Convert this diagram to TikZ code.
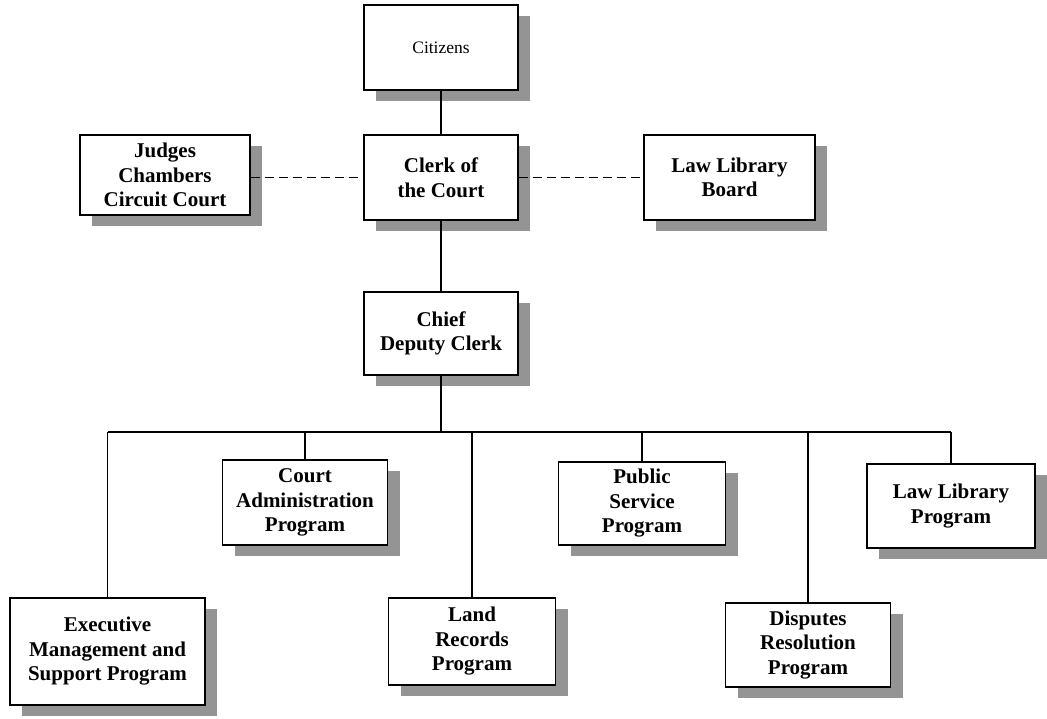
\documentclass[tikz,border=0pt]{standalone}
\usepackage{fontspec}
\setmainfont{Liberation Serif}
\usetikzlibrary{shadows}
\begin{document}
\begin{tikzpicture}[x=1pt,y=-1pt,
  unit/.style={draw=black, line width=1.3pt, fill=white, align=center, inner sep=0pt,
    font=\fontsize{21}{24.5}\selectfont\bfseries,
    drop shadow={shadow xshift=12pt, shadow yshift=-11pt, fill=black!42, opacity=1}},
  link/.style={line width=1.1pt},
  peer/.style={line width=1.1pt, dash pattern=on 9pt off 5pt}]
\useasboundingbox (0,0) rectangle (1047,719);

% top of the hierarchy
\node[unit, minimum width=154pt, minimum height=85pt, font=\fontsize{17.5}{20}\selectfont] (cit) at (441,47.5) {Citizens};
\node[unit, minimum width=154pt, minimum height=85pt] (clerk) at (441,177.5) {Clerk of\\the Court};
\node[unit, minimum width=170pt, minimum height=80pt] (judges) at (165,175) {Judges\\Chambers\\Circuit Court};
\node[unit, minimum width=171pt, minimum height=85pt] (llb) at (729.5,177.5) {Law Library\\Board};
\node[unit, minimum width=154pt, minimum height=83pt] (chief) at (441,333.5) {Chief\\Deputy Clerk};

% programs
\node[unit, minimum width=165pt, minimum height=85pt] (court) at (305,502.5) {Court\\Administration\\Program};
\node[unit, minimum width=167pt, minimum height=83pt] (public) at (642,503.5) {Public\\Service\\Program};
\node[unit, minimum width=168pt, minimum height=84pt] (lawlib) at (951,506) {Law Library\\Program};
\node[unit, minimum width=195pt, minimum height=107pt] (exec) at (107.5,651.5) {Executive\\Management and\\Support Program};
\node[unit, minimum width=167pt, minimum height=87pt] (land) at (472,641.5) {Land\\Records\\Program};
\node[unit, minimum width=165pt, minimum height=84pt] (disp) at (808,645) {Disputes\\Resolution\\Program};

% connectors
\coordinate (bus) at (441,432);
\draw[link] (cit.south) -- (clerk.north);
\draw[link] (clerk.south) -- (chief.north);
\draw[peer] (judges.east |- clerk.west) -- (clerk.west);
\draw[peer] (clerk.east) -- (llb.west);
\draw[link] (chief.south) -- (bus);
\draw[link] (exec.north |- bus) -- (lawlib.north |- bus);
\foreach \n in {exec,court,land,public,disp,lawlib}
  \draw[link] (\n.north |- bus) -- (\n.north);
\end{tikzpicture}
\end{document}
